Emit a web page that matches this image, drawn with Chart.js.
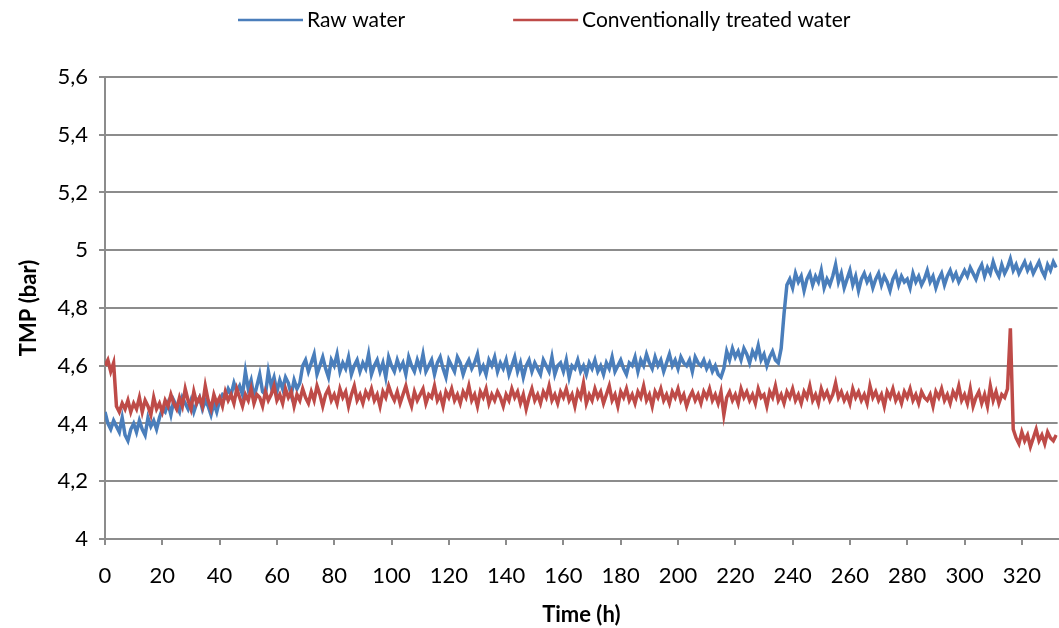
<!DOCTYPE html>
<html>
<head>
<meta charset="utf-8">
<script src="https://cdn.jsdelivr.net/npm/chart.js@4"></script>
<style>
  html, body { margin: 0; padding: 0; background: #fff; }
</style>
</head>
<body>
<canvas id="tmpChart" width="1059" height="628"></canvas>
<script>
// TMP readings, one value per hour (0 .. 332 h)
const RAW_WATER = [
  4.44, 4.40, 4.38, 4.41, 4.39, 4.37, 4.42, 4.36, 4.34, 4.38,
  4.40, 4.37, 4.41, 4.38, 4.36, 4.42, 4.39, 4.41, 4.38, 4.42,
  4.45, 4.44, 4.47, 4.43, 4.48, 4.46, 4.44, 4.49, 4.47, 4.45,
  4.48, 4.44, 4.47, 4.49, 4.45, 4.48, 4.46, 4.43, 4.47, 4.44,
  4.48, 4.50, 4.49, 4.52, 4.50, 4.54, 4.51, 4.53, 4.50, 4.58,
  4.52, 4.55, 4.49, 4.53, 4.57, 4.51, 4.50, 4.58, 4.53, 4.56,
  4.51, 4.55, 4.52, 4.56, 4.54, 4.50, 4.55, 4.52, 4.54, 4.60,
  4.62, 4.58, 4.61, 4.64, 4.57, 4.60, 4.63, 4.59, 4.56, 4.62, 4.60, 4.64, 4.58, 4.61, 4.59, 4.63, 4.57, 4.60, 4.62, 4.58,
  4.61, 4.59, 4.64, 4.57, 4.60, 4.62, 4.58, 4.61, 4.56, 4.63, 4.60, 4.58, 4.62, 4.59, 4.61, 4.57, 4.63, 4.60, 4.58, 4.62,
  4.59, 4.64, 4.58, 4.60, 4.62, 4.57, 4.61, 4.63, 4.59, 4.56, 4.62, 4.60, 4.58, 4.63, 4.61, 4.57, 4.60, 4.62, 4.59, 4.61,
  4.64, 4.58, 4.60, 4.57, 4.62, 4.60, 4.63, 4.58, 4.61, 4.59, 4.62, 4.57, 4.60, 4.63, 4.58, 4.61, 4.56, 4.60, 4.62, 4.58,
  4.61, 4.59, 4.57, 4.62, 4.60, 4.58, 4.63, 4.57, 4.60, 4.61, 4.58, 4.62, 4.56, 4.60, 4.59, 4.62, 4.58, 4.60, 4.57, 4.61,
  4.59, 4.62, 4.58, 4.60, 4.57, 4.61, 4.59, 4.63, 4.58, 4.60, 4.62, 4.59, 4.57, 4.61, 4.60, 4.63, 4.58, 4.62, 4.60, 4.64,
  4.61, 4.59, 4.63, 4.60, 4.62, 4.58, 4.61, 4.64, 4.60, 4.62, 4.59, 4.63, 4.61, 4.60, 4.62, 4.58, 4.63, 4.61, 4.60, 4.62,
  4.59, 4.61, 4.58, 4.60, 4.57, 4.56, 4.59, 4.65, 4.62, 4.66,
  4.63, 4.65, 4.62, 4.66, 4.64, 4.61, 4.65, 4.63, 4.67, 4.62, 4.64, 4.60, 4.63, 4.65, 4.62, 4.61, 4.66,
  4.78, 4.88,
  4.90, 4.87, 4.92, 4.89, 4.91, 4.86, 4.90, 4.92, 4.88, 4.91, 4.89, 4.93, 4.87, 4.90, 4.88, 4.91, 4.95, 4.89, 4.92, 4.87, 4.90,
  4.93, 4.88, 4.91, 4.86, 4.90, 4.92, 4.89, 4.91, 4.87, 4.90, 4.92, 4.88, 4.91, 4.89, 4.86, 4.90, 4.92, 4.88, 4.91, 4.89,
  4.90, 4.87, 4.92, 4.89, 4.91, 4.88, 4.90, 4.93, 4.89, 4.91, 4.87, 4.90, 4.92, 4.88, 4.91, 4.93, 4.90, 4.92, 4.89, 4.91,
  4.93, 4.91, 4.94, 4.92, 4.90, 4.93, 4.95, 4.91, 4.94, 4.92, 4.96, 4.93, 4.91, 4.95, 4.92, 4.94, 4.97, 4.93, 4.95, 4.92,
  4.94, 4.96, 4.93, 4.95, 4.92, 4.94, 4.96, 4.93, 4.91, 4.95, 4.93, 4.96, 4.94
];

const TREATED_WATER = [
  4.60, 4.62, 4.58, 4.61, 4.46, 4.44, 4.47, 4.45, 4.48, 4.44,
  4.47, 4.45, 4.49, 4.44, 4.48, 4.46, 4.43, 4.49, 4.45, 4.47,
  4.44, 4.48, 4.46, 4.50, 4.47, 4.45, 4.49, 4.46, 4.52, 4.48, 4.45, 4.51, 4.47, 4.49, 4.46, 4.53, 4.48, 4.45, 4.50, 4.47,
  4.49, 4.46, 4.51, 4.48, 4.50, 4.47, 4.52, 4.49, 4.46, 4.50, 4.48, 4.52, 4.47, 4.50, 4.49, 4.46, 4.51, 4.48, 4.50, 4.53,
  4.48, 4.50, 4.47, 4.52, 4.49, 4.51, 4.46, 4.50, 4.48, 4.52, 4.49, 4.47, 4.51, 4.48, 4.53, 4.50, 4.46, 4.50, 4.52, 4.48,
  4.50, 4.47, 4.52, 4.49, 4.51, 4.46, 4.50, 4.53, 4.48, 4.50, 4.47, 4.51, 4.49, 4.52, 4.48, 4.50, 4.46, 4.51, 4.49, 4.53,
  4.50, 4.48, 4.51, 4.47, 4.50, 4.53, 4.49, 4.46, 4.51, 4.48, 4.50, 4.52, 4.47, 4.50, 4.49, 4.53, 4.48, 4.50, 4.46, 4.51,
  4.49, 4.52, 4.48, 4.50, 4.47, 4.51, 4.49, 4.53, 4.48, 4.50, 4.46, 4.51, 4.49, 4.52, 4.47, 4.50, 4.48, 4.51, 4.49, 4.46,
  4.50, 4.48, 4.52, 4.49, 4.51, 4.47, 4.50, 4.45, 4.49, 4.52, 4.48, 4.50, 4.47, 4.51, 4.49, 4.53, 4.48, 4.50, 4.47, 4.51,
  4.49, 4.52, 4.48, 4.50, 4.46, 4.51, 4.49, 4.54, 4.47, 4.50, 4.48, 4.52, 4.49, 4.51, 4.47, 4.50, 4.53, 4.48, 4.50, 4.46,
  4.51, 4.49, 4.52, 4.48, 4.50, 4.47, 4.51, 4.49, 4.53, 4.48, 4.50, 4.46, 4.51, 4.49, 4.52, 4.48, 4.50, 4.47, 4.51, 4.49,
  4.52, 4.48, 4.50, 4.46, 4.49, 4.51, 4.48, 4.50, 4.47, 4.51, 4.49, 4.52, 4.48, 4.50, 4.47, 4.51, 4.43, 4.49, 4.51, 4.48,
  4.50, 4.47, 4.52, 4.49, 4.51, 4.48, 4.50, 4.47, 4.52, 4.49, 4.50, 4.46, 4.51, 4.49, 4.53, 4.48, 4.50, 4.47, 4.51, 4.49,
  4.52, 4.48, 4.50, 4.47, 4.51, 4.49, 4.53, 4.48, 4.50, 4.47, 4.52, 4.49, 4.51, 4.48, 4.50, 4.54, 4.49, 4.51, 4.48, 4.50,
  4.47, 4.52, 4.49, 4.51, 4.48, 4.50, 4.47, 4.53, 4.49, 4.51, 4.48, 4.50, 4.46, 4.51, 4.49, 4.52, 4.48, 4.50, 4.47, 4.51,
  4.49, 4.52, 4.48, 4.50, 4.47, 4.51, 4.49, 4.48, 4.50, 4.46, 4.51, 4.49, 4.52, 4.48, 4.50, 4.47, 4.51, 4.49, 4.53, 4.48,
  4.50, 4.47, 4.52, 4.46, 4.49, 4.51, 4.47, 4.50, 4.46, 4.53, 4.48, 4.51, 4.47, 4.50, 4.49, 4.52,
  4.73, 4.38,
  4.35, 4.33, 4.37, 4.34, 4.36, 4.32, 4.35, 4.38, 4.34, 4.36, 4.33, 4.37, 4.35, 4.34, 4.36
];

// Time axis in hours (one reading per hour)
const HOURS = RAW_WATER.map((_, i) => i);

const X_TICKS = [0, 20, 40, 60, 80, 100, 120, 140, 160, 180, 200, 220, 240, 260, 280, 300, 320];
const Y_TICKS = [4, 4.2, 4.4, 4.6, 4.8, 5, 5.2, 5.4, 5.6];

const SERIES_LABELS = ["Raw water", "Conventionally treated water"];
const SERIES_COLORS = ["#4a7ebb", "#be4b48"];

const FONT = "Lato";
const GRID = "#8c8c8c";

// Legend drawn by hand, Excel-like: long line sample then label
const topLegend = {
  id: "topLegend",
  afterDraw(chart) {
    const ctx = chart.ctx;
    ctx.save();
    ctx.font = `21px ${FONT}`;
    ctx.textBaseline = "middle";
    let x = 238;
    const y = 20;
    chart.data.datasets.forEach((ds) => {
      ctx.strokeStyle = ds.borderColor;
      ctx.lineWidth = 2.5;
      ctx.beginPath();
      ctx.moveTo(x, y);
      ctx.lineTo(x + 65, y);
      ctx.stroke();
      ctx.fillStyle = "#000";
      ctx.fillText(ds.label, x + 69, y);
      x += 69 + ctx.measureText(ds.label).width + 108;
    });
    ctx.restore();
  },
};

const makeData = (values) => values.map((v, i) => ({ x: HOURS[i], y: v }));

new Chart(document.getElementById("tmpChart"), {
  type: "line",
  data: {
    datasets: [
      {
        label: SERIES_LABELS[0],
        data: makeData(RAW_WATER),
        borderColor: SERIES_COLORS[0],
        borderWidth: 3.5,
        pointRadius: 0,
        tension: 0,
        order: 2,
      },
      {
        label: SERIES_LABELS[1],
        data: makeData(TREATED_WATER),
        borderColor: SERIES_COLORS[1],
        borderWidth: 3.5,
        pointRadius: 0,
        tension: 0,
        order: 1,
      },
    ],
  },
  options: {
    responsive: false,
    animation: false,
    layout: { padding: { top: 77, right: 1, left: 0, bottom: 0 } },
    plugins: {
      legend: { display: false },
      tooltip: { enabled: false },
    },
    scales: {
      x: {
        type: "linear",
        min: 0,
        max: 332.5,
        afterBuildTicks: (s) => { s.ticks = X_TICKS.map((v) => ({ value: v })); },
        afterFit: (s) => { s.height = 89; },
        ticks: { color: "#000", font: { family: FONT, size: 22 }, padding: 18, maxRotation: 0 },
        grid: { drawOnChartArea: false, drawTicks: true, tickLength: 6, color: GRID, lineWidth: 2 },
        border: { display: true, color: GRID, width: 2 },
        title: {
          display: true,
          text: "Time (h)",
          color: "#000",
          font: { family: FONT, size: 22, weight: "bold" },
          padding: { top: 0, bottom: 0 },
        },
      },
      y: {
        min: 4,
        max: 5.6,
        afterBuildTicks: (s) => { s.ticks = Y_TICKS.map((v) => ({ value: v })); },
        afterFit: (s) => { s.width = 105; },
        ticks: {
          color: "#000",
          font: { family: FONT, size: 22 },
          padding: 11,
          callback: (v) => String(Number(v.toFixed(1))).replace(".", ","),
        },
        grid: { drawTicks: true, tickLength: 6, color: GRID, lineWidth: 2 },
        border: { display: true, color: GRID, width: 2 },
        title: {
          display: true,
          text: "TMP (bar)",
          color: "#000",
          font: { family: FONT, size: 22, weight: "bold" },
          padding: { top: 16, bottom: 0 },
        },
      },
    },
  },
  plugins: [topLegend],
});
</script>
</body>
</html>
